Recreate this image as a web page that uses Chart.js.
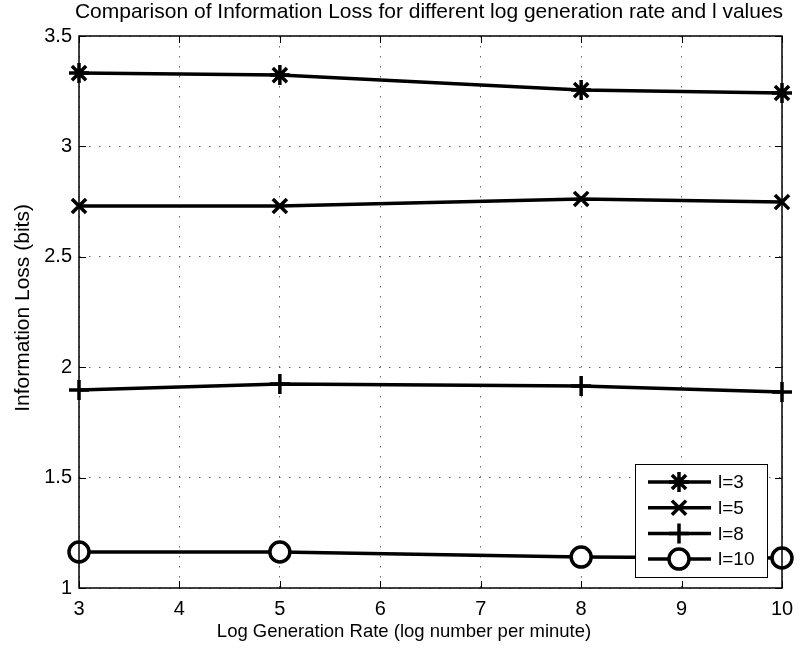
<!DOCTYPE html>
<html>
<head>
<meta charset="utf-8">
<script src="https://cdn.jsdelivr.net/npm/chart.js@4.4.0/dist/chart.umd.min.js"></script>
<style>
  html, body { margin: 0; padding: 0; background: #fff; }
  #wrap { width: 803px; height: 652px; }
</style>
</head>
<body>
<div id="wrap"><canvas id="myChart" width="803" height="652"></canvas></div>
<script>
// data
const rates = [3, 5, 8, 10];
const l3 = [3.332, 3.323, 3.255, 3.242];
const l5 = [2.730, 2.730, 2.762, 2.748];
const l8 = [1.897, 1.924, 1.915, 1.888];
const l10 = [1.163, 1.163, 1.140, 1.136];
const xTicks = [3, 4, 5, 6, 7, 8, 9, 10];
const yTicks = [1, 1.5, 2, 2.5, 3, 3.5];
const seriesNames = ['l=3', 'l=5', 'l=8', 'l=10'];
const markers = ['star', 'crossRot', 'cross', 'circle'];
const markerSizes = [10, 10, 10, 10];

const FONT = 'Liberation Sans, Arial, Helvetica, sans-serif';

function pts(vals) {
  return rates.map((r, i) => ({ x: r, y: vals[i] }));
}

const datasets = [l3, l5, l8, l10].map((vals, i) => ({
  label: seriesNames[i],
  data: pts(vals),
  borderColor: '#000',
  backgroundColor: '#fff',
  borderWidth: 3.5,
  pointStyle: markers[i],
  pointRadius: markerSizes[i],
  pointBorderWidth: 3.5,
  pointBackgroundColor: '#fff',
  pointBorderColor: '#000',
  tension: 0
}));

// box, inward ticks, titles and legend drawn MATLAB-style
const matlabLook = {
  id: 'matlabLook',
  afterDraw(chart) {
    const c = chart.ctx;
    const a = chart.chartArea;
    const xs = chart.scales.x, ys = chart.scales.y;
    c.save();
    c.strokeStyle = '#000';
    c.lineWidth = 1;
    c.beginPath();
    xTicks.forEach(t => {
      const px = Math.round(xs.getPixelForValue(t)) + 0.5;
      c.moveTo(px, a.bottom); c.lineTo(px, a.bottom - 7);
      c.moveTo(px, a.top); c.lineTo(px, a.top + 7);
    });
    yTicks.forEach(t => {
      const py = Math.round(ys.getPixelForValue(t)) + 0.5;
      c.moveTo(a.left, py); c.lineTo(a.left + 7, py);
      c.moveTo(a.right, py); c.lineTo(a.right - 7, py);
    });
    c.stroke();
    c.lineWidth = 1.5;
    c.strokeRect(a.left, a.top, a.right - a.left, a.bottom - a.top);

    // titles
    c.fillStyle = '#000';
    c.textAlign = 'center';
    c.textBaseline = 'middle';
    c.font = '21px ' + FONT;
    c.fillText('Comparison of Information Loss for different log generation rate and l values', 429, 12);
    c.font = '18.5px ' + FONT;
    c.fillText('Log Generation Rate (log number per minute)', 404, 632);
    c.save();
    c.translate(23, 308);
    c.rotate(-Math.PI / 2);
    c.font = '21px ' + FONT;
    c.fillText('Information Loss (bits)', 0, 0);
    c.restore();

    // legend
    const bx = 635, by = 464, bw = 132, bh = 113;
    c.fillStyle = '#fff';
    c.fillRect(bx, by, bw, bh);
    c.lineWidth = 1;
    c.strokeStyle = '#000';
    c.strokeRect(bx + 0.5, by + 0.5, bw, bh);
    chart.data.datasets.forEach((ds, i) => {
      const ly = by + 18 + i * 25.7;
      c.lineWidth = 3.5;
      c.beginPath();
      c.moveTo(648, ly); c.lineTo(711, ly);
      c.stroke();
      c.fillStyle = '#fff';
      Chart.helpers.drawPoint(c, {
        pointStyle: ds.pointStyle,
        radius: ds.pointRadius,
        borderWidth: 3.5
      }, 679, ly);
      c.fillStyle = '#000';
      c.font = '19px ' + FONT;
      c.textAlign = 'left';
      c.fillText(ds.label, 718, ly + 1);
    });
    c.restore();
  }
};

const ctx = document.getElementById('myChart');
new Chart(ctx, {
  type: 'line',
  data: { datasets: datasets },
  options: {
    responsive: false,
    animation: false,
    clip: false,
    layout: { padding: { left: 0, top: 36, right: 21, bottom: 0 } },
    plugins: {
      legend: { display: false },
      title: { display: false },
      tooltip: { enabled: false }
    },
    scales: {
      x: {
        type: 'linear',
        min: 3, max: 10,
        afterFit(s) { s.height = 64; },
        afterBuildTicks(s) { s.ticks = xTicks.map(v => ({ value: v })); },
        ticks: {
          color: '#000', font: { family: FONT, size: 20 }, padding: 9, maxRotation: 0,
          callback: v => String(v)
        },
        grid: { color: '#666', drawTicks: false, lineWidth: 1 },
        border: { display: false, dash: [1.5, 8.5] }
      },
      y: {
        min: 1, max: 3.5,
        afterFit(s) { s.width = 79; },
        afterBuildTicks(s) { s.ticks = yTicks.map(v => ({ value: v })); },
        ticks: {
          color: '#000', font: { family: FONT, size: 20 }, padding: 7,
          callback: v => String(v)
        },
        grid: { color: '#666', drawTicks: false, lineWidth: 1 },
        border: { display: false, dash: [1.5, 8.5] }
      }
    }
  },
  plugins: [matlabLook]
});
</script>
</body>
</html>
